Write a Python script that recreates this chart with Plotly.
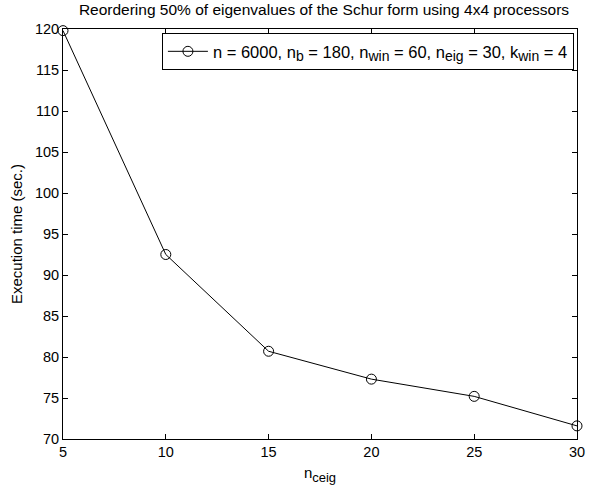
import plotly.graph_objects as go

n_ceig = [5, 10, 15, 20, 25, 30]
exec_time = [119.8, 92.5, 80.7, 77.3, 75.2, 71.6]
x_ticks = [5, 10, 15, 20, 25, 30]
y_ticks = [70, 75, 80, 85, 90, 95, 100, 105, 110, 115, 120]

FONT = "Liberation Sans, Arial, Helvetica, sans-serif"


def sub(t, size=14):
    return f"<sub><span style='font-size:{size}px'>{t}</span></sub>"


legend_name = (f"n = 6000, n{sub('b')} = 180, n{sub('win')} = 60, "
               f"n{sub('eig')} = 30, k{sub('win')} = 4")

fig = go.Figure()
fig.add_trace(go.Scatter(
    x=n_ceig, y=exec_time, mode="lines+markers",
    line=dict(color="black", width=1),
    marker=dict(symbol="circle-open", size=10, color="black", line=dict(width=1, color="black")),
    name=legend_name,
    cliponaxis=False,
    showlegend=True,
))

axis_common = dict(
    showline=True, linecolor="black", linewidth=1, mirror="ticks",
    ticks="inside", ticklen=5, tickwidth=1, tickcolor="black",
    showgrid=False, zeroline=False,
    ticklabeloverflow="allow",
    tickfont=dict(family=FONT, size=14.5, color="black"),
)

fig.update_xaxes(range=[5, 30], tickvals=x_ticks,
                 title=dict(text="n" + sub("ceig", 13), font=dict(family=FONT, size=15, color="black"), standoff=8),
                 **axis_common)
fig.update_yaxes(range=[70, 120], tickvals=y_ticks,
                 title=dict(text="Execution time (sec.)", font=dict(family=FONT, size=15, color="black"), standoff=8),
                 **axis_common)

fig.update_layout(
    width=593, height=491,
    margin=dict(l=63, r=8, t=29, b=52),
    paper_bgcolor="white", plot_bgcolor="white",
    font=dict(family=FONT, size=14.5, color="black"),
    title=dict(text="Reordering 50% of eigenvalues of the Schur form using 4x4 processors",
               x=324 / 593, xanchor="center", y=1 - 10 / 491, yanchor="middle",
               font=dict(family=FONT, size=15.5, color="black")),
    legend=dict(x=0.994, y=0.99, xanchor="right", yanchor="top",
                bordercolor="black", borderwidth=1, bgcolor="white",
                itemwidth=40, tracegroupgap=0,
                font=dict(family=FONT, size=16.5, color="black")),
    showlegend=True,
)

fig.write_html("out.html")
